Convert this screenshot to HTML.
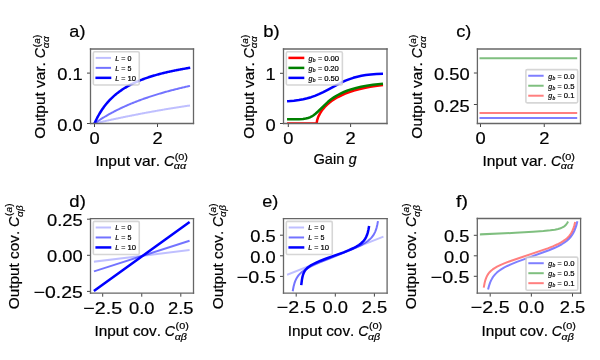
<!DOCTYPE html>
<html><head><meta charset="utf-8"><style>html,body{margin:0;padding:0;background:#fff;}svg{display:block;will-change:transform;filter:blur(0.3px);}text{font-family:"Liberation Sans",sans-serif;fill:#000;stroke:#000;stroke-width:0.2px;font-kerning:none;}</style></head><body>

<svg width="600" height="360" viewBox="0 0 600 360">
<defs>
<style type="text/css">*{stroke-linejoin: round; stroke-linecap: butt}</style>
</defs>
<g id="figure_1">
<g id="patch_1">
<path d="M 0 360 L 600 360 L 600 0 L 0 0 z" style="fill: #ffffff"/>
</g>
<g id="axes_1">
<g id="patch_2">
<path d="M 90.5 123.5 L 193.5 123.5 L 193.5 49 L 90.5 49 z" style="fill: #ffffff"/>
</g>
<g id="matplotlib.axis_1">
<g id="xtick_1">
<g id="line2d_1">
<defs>
<path id="m1504cfccaf" d="M 0 0 L 0 3.5" style="stroke: #444444; stroke-width: 1.0"/>
</defs>
<g>
<use href="#m1504cfccaf" x="94.5" y="123.5" style="stroke: #444444; stroke-width: 1.0"/>
</g>
</g>
<g id="text_1">
<text x="94.5" y="143.850" font-size="16.960" text-anchor="middle" textLength="10.180" lengthAdjust="spacingAndGlyphs">0</text>
</g>
</g>
<g id="xtick_2">
<g id="line2d_2">
<g>
<use href="#m1504cfccaf" x="157.5" y="123.5" style="stroke: #444444; stroke-width: 1.0"/>
</g>
</g>
<g id="text_2">
<text x="157.5" y="143.850" font-size="16.960" text-anchor="middle" textLength="10.180" lengthAdjust="spacingAndGlyphs">2</text>
</g>
</g>
<g id="text_3">
<g transform="translate(95.43 165.91)">
<text x="0.000" y="-0.120" font-size="14.204" textLength="68.999" lengthAdjust="spacingAndGlyphs">Input var. </text>
<text x="68.539" y="-0.120" font-size="14.204" font-style="italic">C</text>
<text x="79.270" y="-5.890" font-size="9.943" textLength="13.269" lengthAdjust="spacingAndGlyphs">(0)</text>
<text x="78.330" y="3.430" font-size="9.943" font-style="italic" textLength="12.353" lengthAdjust="spacingAndGlyphs">αα</text>
</g>
</g>
</g>
<g id="matplotlib.axis_2">
<g id="ytick_1">
<g id="line2d_3">
<defs>
<path id="m5d545ce8f8" d="M 0 0 L -3.5 0" style="stroke: #444444; stroke-width: 1.0"/>
</defs>
<g>
<use href="#m5d545ce8f8" x="90.5" y="123.5" style="stroke: #444444; stroke-width: 1.0"/>
</g>
</g>
<g id="text_4">
<text x="82.700" y="130.570" font-size="16.960" text-anchor="end" textLength="25.445" lengthAdjust="spacingAndGlyphs">0.0</text>
</g>
</g>
<g id="ytick_2">
<g id="line2d_4">
<g>
<use href="#m5d545ce8f8" x="90.5" y="73.1" style="stroke: #444444; stroke-width: 1.0"/>
</g>
</g>
<g id="text_5">
<text x="82.700" y="80.170" font-size="16.960" text-anchor="end" textLength="25.445" lengthAdjust="spacingAndGlyphs">0.1</text>
</g>
</g>
<g id="text_6">
<g transform="translate(45.560 138.64) rotate(-90)">
<text x="0.000" y="-0.120" font-size="14.204" textLength="80.829" lengthAdjust="spacingAndGlyphs">Output var. </text>
<text x="80.369" y="-0.120" font-size="14.204" font-style="italic">C</text>
<text x="91.274" y="-5.890" font-size="9.943">(</text>
<text x="100.664" y="-5.890" font-size="9.943">)</text>
<text x="90.416" y="3.430" font-size="9.943" font-style="italic">α</text>
<text x="94.859" y="-5.890" font-size="9.943" font-style="italic">a</text>
<text x="96.586" y="3.430" font-size="9.943" font-style="italic">α</text>
</g>
</g>
</g>
<g id="line2d_5">
<path d="M 94.5 123.5 L 95.29 123.31 L 96.08 123.13 L 96.88 122.95 L 97.67 122.77 L 98.47 122.59 L 99.26 122.41 L 100.05 122.23 L 100.85 122.05 L 101.64 121.87 L 102.44 121.69 L 103.23 121.51 L 104.02 121.34 L 104.82 121.16 L 105.61 120.98 L 106.41 120.81 L 107.20 120.63 L 108 120.46 L 108.79 120.29 L 109.58 120.11 L 110.38 119.94 L 111.17 119.77 L 111.97 119.60 L 112.76 119.43 L 113.55 119.26 L 114.35 119.09 L 115.14 118.92 L 115.94 118.75 L 116.73 118.58 L 117.52 118.41 L 118.32 118.24 L 119.11 118.08 L 119.91 117.91 L 120.70 117.75 L 121.5 117.58 L 122.29 117.42 L 123.08 117.25 L 123.88 117.09 L 124.67 116.93 L 125.47 116.77 L 126.26 116.60 L 127.05 116.44 L 127.85 116.28 L 128.64 116.12 L 129.44 115.96 L 130.23 115.80 L 131.02 115.65 L 131.82 115.49 L 132.61 115.33 L 133.41 115.17 L 134.20 115.02 L 135 114.86 L 135.79 114.71 L 136.58 114.55 L 137.38 114.40 L 138.17 114.25 L 138.97 114.09 L 139.76 113.94 L 140.55 113.79 L 141.35 113.64 L 142.14 113.49 L 142.94 113.34 L 143.73 113.19 L 144.52 113.04 L 145.32 112.89 L 146.11 112.74 L 146.91 112.60 L 147.70 112.45 L 148.5 112.30 L 149.29 112.16 L 150.08 112.01 L 150.88 111.87 L 151.67 111.72 L 152.47 111.58 L 153.26 111.44 L 154.05 111.29 L 154.85 111.15 L 155.64 111.01 L 156.44 110.87 L 157.23 110.73 L 158.02 110.59 L 158.82 110.45 L 159.61 110.31 L 160.41 110.17 L 161.20 110.04 L 162 109.90 L 162.79 109.76 L 163.58 109.63 L 164.38 109.49 L 165.17 109.36 L 165.97 109.22 L 166.76 109.09 L 167.55 108.96 L 168.35 108.82 L 169.14 108.69 L 169.94 108.56 L 170.73 108.43 L 171.52 108.30 L 172.32 108.17 L 173.11 108.04 L 173.91 107.91 L 174.70 107.78 L 175.5 107.65 L 176.29 107.53 L 177.08 107.40 L 177.88 107.27 L 178.67 107.15 L 179.47 107.02 L 180.26 106.90 L 181.05 106.77 L 181.85 106.65 L 182.64 106.53 L 183.44 106.41 L 184.23 106.28 L 185.02 106.16 L 185.82 106.04 L 186.61 105.92 L 187.41 105.80 L 188.20 105.68 L 189 105.56" clip-path="url(#p5fc4c7f21c)" style="fill: none; stroke: #0000ff; stroke-opacity: 0.25; stroke-width: 2; stroke-linecap: square"/>
</g>
<g id="line2d_6">
<path d="M 94.5 123.5 L 95.29 122.93 L 96.08 122.38 L 96.88 121.83 L 97.67 121.29 L 98.47 120.76 L 99.26 120.24 L 100.05 119.72 L 100.85 119.21 L 101.64 118.70 L 102.44 118.21 L 103.23 117.71 L 104.02 117.23 L 104.82 116.75 L 105.61 116.27 L 106.41 115.81 L 107.20 115.34 L 108 114.89 L 108.79 114.44 L 109.58 113.99 L 110.38 113.55 L 111.17 113.11 L 111.97 112.68 L 112.76 112.26 L 113.55 111.84 L 114.35 111.42 L 115.14 111.01 L 115.94 110.61 L 116.73 110.20 L 117.52 109.81 L 118.32 109.42 L 119.11 109.03 L 119.91 108.64 L 120.70 108.26 L 121.5 107.89 L 122.29 107.52 L 123.08 107.15 L 123.88 106.79 L 124.67 106.43 L 125.47 106.07 L 126.26 105.72 L 127.05 105.37 L 127.85 105.03 L 128.64 104.69 L 129.44 104.35 L 130.23 104.01 L 131.02 103.68 L 131.82 103.36 L 132.61 103.03 L 133.41 102.71 L 134.20 102.39 L 135 102.08 L 135.79 101.77 L 136.58 101.46 L 137.38 101.15 L 138.17 100.85 L 138.97 100.55 L 139.76 100.25 L 140.55 99.96 L 141.35 99.67 L 142.14 99.38 L 142.94 99.09 L 143.73 98.81 L 144.52 98.53 L 145.32 98.25 L 146.11 97.98 L 146.91 97.71 L 147.70 97.44 L 148.5 97.17 L 149.29 96.90 L 150.08 96.64 L 150.88 96.38 L 151.67 96.12 L 152.47 95.86 L 153.26 95.61 L 154.05 95.36 L 154.85 95.11 L 155.64 94.86 L 156.44 94.62 L 157.23 94.37 L 158.02 94.13 L 158.82 93.89 L 159.61 93.66 L 160.41 93.42 L 161.20 93.19 L 162 92.96 L 162.79 92.73 L 163.58 92.50 L 164.38 92.28 L 165.17 92.05 L 165.97 91.83 L 166.76 91.61 L 167.55 91.39 L 168.35 91.18 L 169.14 90.96 L 169.94 90.75 L 170.73 90.54 L 171.52 90.33 L 172.32 90.12 L 173.11 89.92 L 173.91 89.71 L 174.70 89.51 L 175.5 89.31 L 176.29 89.11 L 177.08 88.91 L 177.88 88.71 L 178.67 88.52 L 179.47 88.32 L 180.26 88.13 L 181.05 87.94 L 181.85 87.75 L 182.64 87.56 L 183.44 87.37 L 184.23 87.19 L 185.02 87.00 L 185.82 86.82 L 186.61 86.64 L 187.41 86.46 L 188.20 86.28 L 189 86.10" clip-path="url(#p5fc4c7f21c)" style="fill: none; stroke: #0000ff; stroke-opacity: 0.55; stroke-width: 2; stroke-linecap: square"/>
</g>
<g id="line2d_7">
<path d="M 94.5 123.5 L 95.29 121.74 L 96.08 120.07 L 96.88 118.47 L 97.67 116.95 L 98.47 115.49 L 99.26 114.09 L 100.05 112.76 L 100.85 111.48 L 101.64 110.25 L 102.44 109.07 L 103.23 107.93 L 104.02 106.84 L 104.82 105.78 L 105.61 104.77 L 106.41 103.79 L 107.20 102.84 L 108 101.93 L 108.79 101.05 L 109.58 100.20 L 110.38 99.37 L 111.17 98.57 L 111.97 97.80 L 112.76 97.05 L 113.55 96.32 L 114.35 95.62 L 115.14 94.93 L 115.94 94.27 L 116.73 93.62 L 117.52 93.00 L 118.32 92.39 L 119.11 91.79 L 119.91 91.21 L 120.70 90.65 L 121.5 90.10 L 122.29 89.57 L 123.08 89.05 L 123.88 88.54 L 124.67 88.05 L 125.47 87.56 L 126.26 87.09 L 127.05 86.63 L 127.85 86.18 L 128.64 85.74 L 129.44 85.31 L 130.23 84.89 L 131.02 84.48 L 131.82 84.08 L 132.61 83.69 L 133.41 83.31 L 134.20 82.93 L 135 82.56 L 135.79 82.20 L 136.58 81.85 L 137.38 81.50 L 138.17 81.16 L 138.97 80.83 L 139.76 80.50 L 140.55 80.18 L 141.35 79.87 L 142.14 79.56 L 142.94 79.26 L 143.73 78.97 L 144.52 78.68 L 145.32 78.39 L 146.11 78.11 L 146.91 77.83 L 147.70 77.56 L 148.5 77.30 L 149.29 77.04 L 150.08 76.78 L 150.88 76.53 L 151.67 76.28 L 152.47 76.04 L 153.26 75.80 L 154.05 75.56 L 154.85 75.33 L 155.64 75.10 L 156.44 74.87 L 157.23 74.65 L 158.02 74.44 L 158.82 74.22 L 159.61 74.01 L 160.41 73.80 L 161.20 73.60 L 162 73.40 L 162.79 73.20 L 163.58 73.00 L 164.38 72.81 L 165.17 72.62 L 165.97 72.43 L 166.76 72.25 L 167.55 72.06 L 168.35 71.88 L 169.14 71.71 L 169.94 71.53 L 170.73 71.36 L 171.52 71.19 L 172.32 71.02 L 173.11 70.86 L 173.91 70.69 L 174.70 70.53 L 175.5 70.37 L 176.29 70.22 L 177.08 70.06 L 177.88 69.91 L 178.67 69.76 L 179.47 69.61 L 180.26 69.46 L 181.05 69.31 L 181.85 69.17 L 182.64 69.03 L 183.44 68.89 L 184.23 68.75 L 185.02 68.61 L 185.82 68.48 L 186.61 68.34 L 187.41 68.21 L 188.20 68.08 L 189 67.95" clip-path="url(#p5fc4c7f21c)" style="fill: none; stroke: #0000ff; stroke-width: 2.5; stroke-linecap: square"/>
</g>
<g id="patch_3">
<path d="M 90.5 123.5 L 90.5 49" style="fill: none; stroke: #666666; stroke-width: 1.3; stroke-linejoin: miter; stroke-linecap: square"/>
</g>
<g id="patch_4">
<path d="M 193.5 123.5 L 193.5 49" style="fill: none; stroke: #666666; stroke-width: 1.3; stroke-linejoin: miter; stroke-linecap: square"/>
</g>
<g id="patch_5">
<path d="M 90.5 123.5 L 193.5 123.5" style="fill: none; stroke: #666666; stroke-width: 1.3; stroke-linejoin: miter; stroke-linecap: square"/>
</g>
<g id="patch_6">
<path d="M 90.5 49 L 193.5 49" style="fill: none; stroke: #666666; stroke-width: 1.3; stroke-linejoin: miter; stroke-linecap: square"/>
</g>
<g id="text_7">
<text x="69.38" y="37.45" font-size="16.960" text-anchor="start" textLength="16.047" lengthAdjust="spacingAndGlyphs">a)</text>
</g>
<g id="legend_1">
<g id="patch_7">
<path d="M 94.65 84.93 L 137.93 84.93 Q 139.27 84.93 139.27 83.59 L 139.27 53.15 Q 139.27 51.81 137.93 51.81 L 94.65 51.81 Q 93.31 51.81 93.31 53.15 L 93.31 83.59 Q 93.31 84.93 94.65 84.93 z" style="fill: #ffffff; opacity: 0.8; stroke: #cccccc; stroke-width: 1.6; stroke-linejoin: miter"/>
</g>
<g id="line2d_8">
<path d="M 96.66 57.90 L 103.36 57.90 L 110.06 57.90" style="fill: none; stroke: #0000ff; stroke-opacity: 0.25; stroke-width: 2; stroke-linecap: square"/>
</g>
<g id="text_8">
<g transform="translate(115.42 60.25)">
<text x="-0.109" y="0.410" font-size="7.102" font-style="italic">L</text>
<text x="5.803" y="0.410" font-size="7.102">=</text>
<text x="12.196" y="0.410" font-size="7.102">0</text>
</g>
</g>
<g id="line2d_9">
<path d="M 96.66 67.87 L 103.36 67.87 L 110.06 67.87" style="fill: none; stroke: #0000ff; stroke-opacity: 0.55; stroke-width: 2; stroke-linecap: square"/>
</g>
<g id="text_9">
<g transform="translate(115.42 70.22)">
<text x="-0.109" y="0.310" font-size="7.102" font-style="italic">L</text>
<text x="5.803" y="0.310" font-size="7.102">=</text>
<text x="12.196" y="0.310" font-size="7.102">5</text>
</g>
</g>
<g id="line2d_10">
<path d="M 96.66 77.84 L 103.36 77.84 L 110.06 77.84" style="fill: none; stroke: #0000ff; stroke-width: 2.5; stroke-linecap: square"/>
</g>
<g id="text_10">
<g transform="translate(115.42 80.19)">
<text x="-0.109" y="0.410" font-size="7.102" font-style="italic">L</text>
<text x="5.803" y="0.410" font-size="7.102">=</text>
<text x="12.040" y="0.410" font-size="7.102" textLength="8.563" lengthAdjust="spacingAndGlyphs">10</text>
</g>
</g>
</g>
</g>
<g id="axes_2">
<g id="patch_8">
<path d="M 283.5 123.5 L 387 123.5 L 387 49 L 283.5 49 z" style="fill: #ffffff"/>
</g>
<g id="matplotlib.axis_3">
<g id="xtick_3">
<g id="line2d_11">
<g>
<use href="#m1504cfccaf" x="288.3" y="123.5" style="stroke: #444444; stroke-width: 1.0"/>
</g>
</g>
<g id="text_11">
<text x="288.3" y="143.850" font-size="16.960" text-anchor="middle" textLength="10.180" lengthAdjust="spacingAndGlyphs">0</text>
</g>
</g>
<g id="xtick_4">
<g id="line2d_12">
<g>
<use href="#m1504cfccaf" x="350.6" y="123.5" style="stroke: #444444; stroke-width: 1.0"/>
</g>
</g>
<g id="text_12">
<text x="350.6" y="143.850" font-size="16.960" text-anchor="middle" textLength="10.180" lengthAdjust="spacingAndGlyphs">2</text>
</g>
</g>
<g id="text_13">
<g transform="translate(313.40 163.76)">
<text x="0.000" y="-0.120" font-size="14.204" textLength="35.009" lengthAdjust="spacingAndGlyphs">Gain </text>
<text x="35.303" y="-0.120" font-size="14.204" font-style="italic">g</text>
</g>
</g>
</g>
<g id="matplotlib.axis_4">
<g id="ytick_3">
<g id="line2d_13">
<g>
<use href="#m5d545ce8f8" x="283.5" y="123.5" style="stroke: #444444; stroke-width: 1.0"/>
</g>
</g>
<g id="text_14">
<text x="275.700" y="130.570" font-size="16.960" text-anchor="end" textLength="10.180" lengthAdjust="spacingAndGlyphs">0</text>
</g>
</g>
<g id="ytick_4">
<g id="line2d_14">
<g>
<use href="#m5d545ce8f8" x="283.5" y="73.3" style="stroke: #444444; stroke-width: 1.0"/>
</g>
</g>
<g id="text_15">
<text x="275.700" y="80.370" font-size="16.960" text-anchor="end" textLength="10.180" lengthAdjust="spacingAndGlyphs">1</text>
</g>
</g>
<g id="text_16">
<g transform="translate(253.830 138.64) rotate(-90)">
<text x="0.000" y="-0.120" font-size="14.204" textLength="80.829" lengthAdjust="spacingAndGlyphs">Output var. </text>
<text x="80.369" y="-0.120" font-size="14.204" font-style="italic">C</text>
<text x="91.274" y="-5.890" font-size="9.943">(</text>
<text x="100.664" y="-5.890" font-size="9.943">)</text>
<text x="90.416" y="3.430" font-size="9.943" font-style="italic">α</text>
<text x="94.859" y="-5.890" font-size="9.943" font-style="italic">a</text>
<text x="96.586" y="3.430" font-size="9.943" font-style="italic">α</text>
</g>
</g>
</g>
<g id="line2d_15">
<path d="M 288.3 123.5 L 316.40 123.5 L 316.63 123.34 L 317.10 120.51 L 317.81 118.14 L 318.74 115.84 L 319.91 113.56 L 321.32 111.30 L 322.96 109.08 L 324.83 106.90 L 326.94 104.79 L 329.28 102.75 L 331.86 100.79 L 334.67 98.92 L 337.95 97.02 L 341.46 95.26 L 345.21 93.63 L 349.42 92.05 L 353.87 90.62 L 358.79 89.27 L 364.18 88.02 L 370.27 86.84 L 377.06 85.77 L 381.75 85.15 L 381.75 85.15" clip-path="url(#p96dea099c9)" style="fill: none; stroke: #ff0000; stroke-width: 2.5; stroke-linecap: square"/>
</g>
<g id="line2d_16">
<path d="M 288.3 119.30 L 298.92 119.17 L 302.98 118.92 L 305.80 118.53 L 307.99 118.02 L 309.86 117.36 L 311.74 116.45 L 313.61 115.25 L 315.49 113.78 L 317.99 111.49 L 327.99 101.83 L 331.11 99.33 L 334.24 97.14 L 337.36 95.23 L 340.49 93.57 L 343.93 91.99 L 347.68 90.52 L 351.74 89.18 L 356.12 87.97 L 361.12 86.83 L 366.74 85.78 L 372.99 84.85 L 380.49 83.96 L 381.75 83.83 L 381.75 83.83" clip-path="url(#p96dea099c9)" style="fill: none; stroke: #008000; stroke-width: 2.5; stroke-linecap: square"/>
</g>
<g id="line2d_17">
<path d="M 288.3 101.17 L 293.92 100.68 L 298.92 100.03 L 303.30 99.24 L 307.36 98.28 L 311.11 97.19 L 314.86 95.88 L 318.92 94.20 L 323.30 92.13 L 328.61 89.35 L 341.11 82.69 L 345.49 80.68 L 349.55 79.07 L 353.30 77.81 L 357.37 76.70 L 361.43 75.81 L 365.81 75.09 L 370.81 74.49 L 376.43 74.05 L 381.75 73.81 L 381.75 73.81" clip-path="url(#p96dea099c9)" style="fill: none; stroke: #0000ff; stroke-width: 2.5; stroke-linecap: square"/>
</g>
<g id="patch_9">
<path d="M 283.5 123.5 L 283.5 49" style="fill: none; stroke: #666666; stroke-width: 1.3; stroke-linejoin: miter; stroke-linecap: square"/>
</g>
<g id="patch_10">
<path d="M 387 123.5 L 387 49" style="fill: none; stroke: #666666; stroke-width: 1.3; stroke-linejoin: miter; stroke-linecap: square"/>
</g>
<g id="patch_11">
<path d="M 283.5 123.5 L 387 123.5" style="fill: none; stroke: #666666; stroke-width: 1.3; stroke-linejoin: miter; stroke-linecap: square"/>
</g>
<g id="patch_12">
<path d="M 283.5 49 L 387 49" style="fill: none; stroke: #666666; stroke-width: 1.3; stroke-linejoin: miter; stroke-linecap: square"/>
</g>
<g id="text_17">
<text x="263.280" y="37.45" font-size="16.960" text-anchor="start" textLength="16.398" lengthAdjust="spacingAndGlyphs">b)</text>
</g>
<g id="legend_2">
<g id="patch_13">
<path d="M 287.65 84.97 L 341.05 84.97 Q 342.39 84.97 342.39 83.63 L 342.39 53.15 Q 342.39 51.81 341.05 51.81 L 287.65 51.81 Q 286.31 51.81 286.31 53.15 L 286.31 83.63 Q 286.31 84.97 287.65 84.97 z" style="fill: #ffffff; opacity: 0.8; stroke: #cccccc; stroke-width: 1.6; stroke-linejoin: miter"/>
</g>
<g id="line2d_18">
<path d="M 289.66 57.90 L 296.36 57.90 L 303.06 57.90" style="fill: none; stroke: #ff0000; stroke-width: 2.5; stroke-linecap: square"/>
</g>
<g id="text_18">
<g transform="translate(308.42 60.25)">
<text x="0.152" y="0.410" font-size="7.102" font-style="italic">g</text>
<text x="4.386" y="1.550" font-size="4.971" font-style="italic">b</text>
<text x="9.523" y="0.410" font-size="7.102">=</text>
<text x="15.760" y="0.410" font-size="7.102" textLength="14.993" lengthAdjust="spacingAndGlyphs">0.00</text>
</g>
</g>
<g id="line2d_19">
<path d="M 289.66 67.89 L 296.36 67.89 L 303.06 67.89" style="fill: none; stroke: #008000; stroke-width: 2.5; stroke-linecap: square"/>
</g>
<g id="text_19">
<g transform="translate(308.42 70.23)">
<text x="0.152" y="0.410" font-size="7.102" font-style="italic">g</text>
<text x="4.386" y="1.550" font-size="4.971" font-style="italic">b</text>
<text x="9.523" y="0.410" font-size="7.102">=</text>
<text x="15.760" y="0.410" font-size="7.102" textLength="6.420" lengthAdjust="spacingAndGlyphs">0.</text>
<text x="21.820" y="0.410" font-size="7.102" textLength="8.563" lengthAdjust="spacingAndGlyphs">20</text>
</g>
</g>
<g id="line2d_20">
<path d="M 289.66 77.87 L 296.36 77.87 L 303.06 77.87" style="fill: none; stroke: #0000ff; stroke-width: 2.5; stroke-linecap: square"/>
</g>
<g id="text_20">
<g transform="translate(308.42 80.21)">
<text x="0.152" y="0.410" font-size="7.102" font-style="italic">g</text>
<text x="4.386" y="1.550" font-size="4.971" font-style="italic">b</text>
<text x="9.523" y="0.410" font-size="7.102">=</text>
<text x="15.760" y="0.410" font-size="7.102" textLength="14.993" lengthAdjust="spacingAndGlyphs">0.50</text>
</g>
</g>
</g>
</g>
<g id="axes_3">
<g id="patch_14">
<path d="M 477.4 123.5 L 580.5 123.5 L 580.5 49 L 477.4 49 z" style="fill: #ffffff"/>
</g>
<g id="matplotlib.axis_5">
<g id="xtick_5">
<g id="line2d_21">
<g>
<use href="#m1504cfccaf" x="480.5" y="123.5" style="stroke: #444444; stroke-width: 1.0"/>
</g>
</g>
<g id="text_21">
<text x="480.5" y="143.850" font-size="16.960" text-anchor="middle" textLength="10.180" lengthAdjust="spacingAndGlyphs">0</text>
</g>
</g>
<g id="xtick_6">
<g id="line2d_22">
<g>
<use href="#m1504cfccaf" x="544.25" y="123.5" style="stroke: #444444; stroke-width: 1.0"/>
</g>
</g>
<g id="text_22">
<text x="544.25" y="143.850" font-size="16.960" text-anchor="middle" textLength="10.180" lengthAdjust="spacingAndGlyphs">2</text>
</g>
</g>
<g id="text_23">
<g transform="translate(482.38 165.91)">
<text x="0.000" y="-0.120" font-size="14.204" textLength="68.999" lengthAdjust="spacingAndGlyphs">Input var. </text>
<text x="68.539" y="-0.120" font-size="14.204" font-style="italic">C</text>
<text x="79.270" y="-5.890" font-size="9.943" textLength="13.269" lengthAdjust="spacingAndGlyphs">(0)</text>
<text x="78.330" y="3.430" font-size="9.943" font-style="italic" textLength="12.353" lengthAdjust="spacingAndGlyphs">αα</text>
</g>
</g>
</g>
<g id="matplotlib.axis_6">
<g id="ytick_5">
<g id="line2d_23">
<g>
<use href="#m5d545ce8f8" x="477.4" y="104.5" style="stroke: #444444; stroke-width: 1.0"/>
</g>
</g>
<g id="text_24">
<text x="469.600" y="111.570" font-size="16.960" text-anchor="end" textLength="35.625" lengthAdjust="spacingAndGlyphs">0.25</text>
</g>
</g>
<g id="ytick_6">
<g id="line2d_24">
<g>
<use href="#m5d545ce8f8" x="477.4" y="73" style="stroke: #444444; stroke-width: 1.0"/>
</g>
</g>
<g id="text_25">
<text x="469.600" y="80.070" font-size="16.960" text-anchor="end" textLength="35.625" lengthAdjust="spacingAndGlyphs">0.50</text>
</g>
</g>
<g id="text_26">
<g transform="translate(422.280 138.64) rotate(-90)">
<text x="0.000" y="-0.120" font-size="14.204" textLength="80.829" lengthAdjust="spacingAndGlyphs">Output var. </text>
<text x="80.369" y="-0.120" font-size="14.204" font-style="italic">C</text>
<text x="91.274" y="-5.890" font-size="9.943">(</text>
<text x="100.664" y="-5.890" font-size="9.943">)</text>
<text x="90.416" y="3.430" font-size="9.943" font-style="italic">α</text>
<text x="94.859" y="-5.890" font-size="9.943" font-style="italic">a</text>
<text x="96.586" y="3.430" font-size="9.943" font-style="italic">α</text>
</g>
</g>
</g>
<g id="line2d_25">
<path d="M 480.5 117.9 L 576.2 117.9" clip-path="url(#pc8fb054b8a)" style="fill: none; stroke: #0000ff; stroke-opacity: 0.5; stroke-width: 2; stroke-linecap: square"/>
</g>
<g id="line2d_26">
<path d="M 480.5 58.2 L 576.2 58.2" clip-path="url(#pc8fb054b8a)" style="fill: none; stroke: #008000; stroke-opacity: 0.5; stroke-width: 2; stroke-linecap: square"/>
</g>
<g id="line2d_27">
<path d="M 480.5 113.1 L 576.2 113.1" clip-path="url(#pc8fb054b8a)" style="fill: none; stroke: #ff0000; stroke-opacity: 0.5; stroke-width: 2; stroke-linecap: square"/>
</g>
<g id="patch_15">
<path d="M 477.4 123.5 L 477.4 49" style="fill: none; stroke: #666666; stroke-width: 1.3; stroke-linejoin: miter; stroke-linecap: square"/>
</g>
<g id="patch_16">
<path d="M 580.5 123.5 L 580.5 49" style="fill: none; stroke: #666666; stroke-width: 1.3; stroke-linejoin: miter; stroke-linecap: square"/>
</g>
<g id="patch_17">
<path d="M 477.4 123.5 L 580.5 123.5" style="fill: none; stroke: #666666; stroke-width: 1.3; stroke-linejoin: miter; stroke-linecap: square"/>
</g>
<g id="patch_18">
<path d="M 477.4 49 L 580.5 49" style="fill: none; stroke: #666666; stroke-width: 1.3; stroke-linejoin: miter; stroke-linecap: square"/>
</g>
<g id="text_27">
<text x="456.26" y="37.45" font-size="16.960" text-anchor="start" textLength="15.039" lengthAdjust="spacingAndGlyphs">c)</text>
</g>
<g id="legend_3">
<g id="patch_19">
<path d="M 527.23 102.83 L 576.34 102.83 Q 577.68 102.83 577.68 101.49 L 577.68 71.00 Q 577.68 69.66 576.34 69.66 L 527.23 69.66 Q 525.89 69.66 525.89 71.00 L 525.89 101.49 Q 525.89 102.83 527.23 102.83 z" style="fill: #ffffff; opacity: 0.8; stroke: #cccccc; stroke-width: 1.6; stroke-linejoin: miter"/>
</g>
<g id="line2d_28">
<path d="M 529.24 75.76 L 535.94 75.76 L 542.64 75.76" style="fill: none; stroke: #0000ff; stroke-opacity: 0.5; stroke-width: 2; stroke-linecap: square"/>
</g>
<g id="text_28">
<g transform="translate(548.00 78.11)">
<text x="0.152" y="0.410" font-size="7.102" font-style="italic">g</text>
<text x="4.386" y="1.550" font-size="4.971" font-style="italic">b</text>
<text x="9.523" y="0.410" font-size="7.102">=</text>
<text x="15.760" y="0.410" font-size="7.102" textLength="10.703" lengthAdjust="spacingAndGlyphs">0.0</text>
</g>
</g>
<g id="line2d_29">
<path d="M 529.24 85.74 L 535.94 85.74 L 542.64 85.74" style="fill: none; stroke: #008000; stroke-opacity: 0.5; stroke-width: 2; stroke-linecap: square"/>
</g>
<g id="text_29">
<g transform="translate(548.00 88.09)">
<text x="0.152" y="0.410" font-size="7.102" font-style="italic">g</text>
<text x="4.386" y="1.550" font-size="4.971" font-style="italic">b</text>
<text x="9.523" y="0.410" font-size="7.102">=</text>
<text x="15.760" y="0.410" font-size="7.102" textLength="10.703" lengthAdjust="spacingAndGlyphs">0.5</text>
</g>
</g>
<g id="line2d_30">
<path d="M 529.24 95.72 L 535.94 95.72 L 542.64 95.72" style="fill: none; stroke: #ff0000; stroke-opacity: 0.5; stroke-width: 2; stroke-linecap: square"/>
</g>
<g id="text_30">
<g transform="translate(548.00 98.07)">
<text x="0.152" y="0.410" font-size="7.102" font-style="italic">g</text>
<text x="4.386" y="1.550" font-size="4.971" font-style="italic">b</text>
<text x="9.523" y="0.410" font-size="7.102">=</text>
<text x="15.760" y="0.410" font-size="7.102" textLength="10.703" lengthAdjust="spacingAndGlyphs">0.1</text>
</g>
</g>
</g>
</g>
<g id="axes_4">
<g id="patch_20">
<path d="M 90.5 293.2 L 193.5 293.2 L 193.5 218.6 L 90.5 218.6 z" style="fill: #ffffff"/>
</g>
<g id="matplotlib.axis_7">
<g id="xtick_7">
<g id="line2d_31">
<g>
<use href="#m1504cfccaf" x="102.7" y="293.2" style="stroke: #444444; stroke-width: 1.0"/>
</g>
</g>
<g id="text_31">
<text x="102.7" y="313.550" font-size="16.960" text-anchor="middle" textLength="38.852" lengthAdjust="spacingAndGlyphs">−2.5</text>
</g>
</g>
<g id="xtick_8">
<g id="line2d_32">
<g>
<use href="#m1504cfccaf" x="141.75" y="293.2" style="stroke: #444444; stroke-width: 1.0"/>
</g>
</g>
<g id="text_32">
<text x="141.75" y="313.550" font-size="16.960" text-anchor="middle" textLength="25.445" lengthAdjust="spacingAndGlyphs">0.0</text>
</g>
</g>
<g id="xtick_9">
<g id="line2d_33">
<g>
<use href="#m1504cfccaf" x="180.8" y="293.2" style="stroke: #444444; stroke-width: 1.0"/>
</g>
</g>
<g id="text_33">
<text x="180.8" y="313.550" font-size="16.960" text-anchor="middle" textLength="25.445" lengthAdjust="spacingAndGlyphs">2.5</text>
</g>
</g>
<g id="text_34">
<g transform="translate(94.49 336.95)">
<text x="0.000" y="-0.800" font-size="14.204" textLength="70.839" lengthAdjust="spacingAndGlyphs">Input cov. </text>
<text x="70.379" y="-0.800" font-size="14.204" font-style="italic">C</text>
<text x="81.110" y="-7.890" font-size="9.943" textLength="13.269" lengthAdjust="spacingAndGlyphs">(0)</text>
<text x="80.170" y="2.740" font-size="9.943" font-style="italic" textLength="12.156" lengthAdjust="spacingAndGlyphs">αβ</text>
</g>
</g>
</g>
<g id="matplotlib.axis_8">
<g id="ytick_7">
<g id="line2d_34">
<g>
<use href="#m5d545ce8f8" x="90.5" y="291.4" style="stroke: #444444; stroke-width: 1.0"/>
</g>
</g>
<g id="text_35">
<text x="82.700" y="298.470" font-size="16.960" text-anchor="end" textLength="49.031" lengthAdjust="spacingAndGlyphs">−0.25</text>
</g>
</g>
<g id="ytick_8">
<g id="line2d_35">
<g>
<use href="#m5d545ce8f8" x="90.5" y="255.3" style="stroke: #444444; stroke-width: 1.0"/>
</g>
</g>
<g id="text_36">
<text x="82.700" y="262.370" font-size="16.960" text-anchor="end" textLength="35.625" lengthAdjust="spacingAndGlyphs">0.00</text>
</g>
</g>
<g id="ytick_9">
<g id="line2d_36">
<g>
<use href="#m5d545ce8f8" x="90.5" y="219.2" style="stroke: #444444; stroke-width: 1.0"/>
</g>
</g>
<g id="text_37">
<text x="82.700" y="226.270" font-size="16.960" text-anchor="end" textLength="35.625" lengthAdjust="spacingAndGlyphs">0.25</text>
</g>
</g>
<g id="text_38">
<g transform="translate(20.230 309.23) rotate(-90)">
<text x="0.000" y="-0.800" font-size="14.204" textLength="82.669" lengthAdjust="spacingAndGlyphs">Output cov. </text>
<text x="82.209" y="-0.800" font-size="14.204" font-style="italic">C</text>
<text x="93.114" y="-7.890" font-size="9.943">(</text>
<text x="102.504" y="-7.890" font-size="9.943">)</text>
<text x="92.256" y="2.740" font-size="9.943" font-style="italic">α</text>
<text x="96.699" y="-7.890" font-size="9.943" font-style="italic">a</text>
<text x="98.323" y="2.740" font-size="9.943" font-style="italic">β</text>
</g>
</g>
</g>
<g id="line2d_37">
<path d="M 94.9 261.6 L 188.6 250.2" clip-path="url(#p35a63f50ab)" style="fill: none; stroke: #0000ff; stroke-opacity: 0.25; stroke-width: 2; stroke-linecap: square"/>
</g>
<g id="line2d_38">
<path d="M 94.9 271.1 L 188.6 241.1" clip-path="url(#p35a63f50ab)" style="fill: none; stroke: #0000ff; stroke-opacity: 0.55; stroke-width: 2; stroke-linecap: square"/>
</g>
<g id="line2d_39">
<path d="M 94.9 290.2 L 188.6 222.8" clip-path="url(#p35a63f50ab)" style="fill: none; stroke: #0000ff; stroke-width: 2.5; stroke-linecap: square"/>
</g>
<g id="patch_21">
<path d="M 90.5 293.2 L 90.5 218.6" style="fill: none; stroke: #666666; stroke-width: 1.3; stroke-linejoin: miter; stroke-linecap: square"/>
</g>
<g id="patch_22">
<path d="M 193.5 293.2 L 193.5 218.6" style="fill: none; stroke: #666666; stroke-width: 1.3; stroke-linejoin: miter; stroke-linecap: square"/>
</g>
<g id="patch_23">
<path d="M 90.5 293.2 L 193.5 293.2" style="fill: none; stroke: #666666; stroke-width: 1.3; stroke-linejoin: miter; stroke-linecap: square"/>
</g>
<g id="patch_24">
<path d="M 90.5 218.6 L 193.5 218.6" style="fill: none; stroke: #666666; stroke-width: 1.3; stroke-linejoin: miter; stroke-linecap: square"/>
</g>
<g id="text_39">
<text x="69.38" y="207.03" font-size="16.960" text-anchor="start" textLength="16.398" lengthAdjust="spacingAndGlyphs">d)</text>
</g>
<g id="legend_4">
<g id="patch_25">
<path d="M 94.65 254.53 L 137.93 254.53 Q 139.27 254.53 139.27 253.19 L 139.27 222.75 Q 139.27 221.41 137.93 221.41 L 94.65 221.41 Q 93.31 221.41 93.31 222.75 L 93.31 253.19 Q 93.31 254.53 94.65 254.53 z" style="fill: #ffffff; opacity: 0.8; stroke: #cccccc; stroke-width: 1.6; stroke-linejoin: miter"/>
</g>
<g id="line2d_40">
<path d="M 96.66 227.50 L 103.36 227.50 L 110.06 227.50" style="fill: none; stroke: #0000ff; stroke-opacity: 0.25; stroke-width: 2; stroke-linecap: square"/>
</g>
<g id="text_40">
<g transform="translate(115.42 229.85)">
<text x="-0.109" y="0.410" font-size="7.102" font-style="italic">L</text>
<text x="5.803" y="0.410" font-size="7.102">=</text>
<text x="12.196" y="0.410" font-size="7.102">0</text>
</g>
</g>
<g id="line2d_41">
<path d="M 96.66 237.47 L 103.36 237.47 L 110.06 237.47" style="fill: none; stroke: #0000ff; stroke-opacity: 0.55; stroke-width: 2; stroke-linecap: square"/>
</g>
<g id="text_41">
<g transform="translate(115.42 239.82)">
<text x="-0.109" y="0.310" font-size="7.102" font-style="italic">L</text>
<text x="5.803" y="0.310" font-size="7.102">=</text>
<text x="12.196" y="0.310" font-size="7.102">5</text>
</g>
</g>
<g id="line2d_42">
<path d="M 96.66 247.44 L 103.36 247.44 L 110.06 247.44" style="fill: none; stroke: #0000ff; stroke-width: 2.5; stroke-linecap: square"/>
</g>
<g id="text_42">
<g transform="translate(115.42 249.79)">
<text x="-0.109" y="0.410" font-size="7.102" font-style="italic">L</text>
<text x="5.803" y="0.410" font-size="7.102">=</text>
<text x="12.040" y="0.410" font-size="7.102" textLength="8.563" lengthAdjust="spacingAndGlyphs">10</text>
</g>
</g>
</g>
</g>
<g id="axes_5">
<g id="patch_26">
<path d="M 283.5 293.1 L 387.1 293.1 L 387.1 218.6 L 283.5 218.6 z" style="fill: #ffffff"/>
</g>
<g id="matplotlib.axis_9">
<g id="xtick_10">
<g id="line2d_43">
<g>
<use href="#m1504cfccaf" x="296.2" y="293.1" style="stroke: #444444; stroke-width: 1.0"/>
</g>
</g>
<g id="text_43">
<text x="296.2" y="313.450" font-size="16.960" text-anchor="middle" textLength="38.852" lengthAdjust="spacingAndGlyphs">−2.5</text>
</g>
</g>
<g id="xtick_11">
<g id="line2d_44">
<g>
<use href="#m1504cfccaf" x="335.3" y="293.1" style="stroke: #444444; stroke-width: 1.0"/>
</g>
</g>
<g id="text_44">
<text x="335.3" y="313.450" font-size="16.960" text-anchor="middle" textLength="25.445" lengthAdjust="spacingAndGlyphs">0.0</text>
</g>
</g>
<g id="xtick_12">
<g id="line2d_45">
<g>
<use href="#m1504cfccaf" x="374.4" y="293.1" style="stroke: #444444; stroke-width: 1.0"/>
</g>
</g>
<g id="text_45">
<text x="374.4" y="313.450" font-size="16.960" text-anchor="middle" textLength="25.445" lengthAdjust="spacingAndGlyphs">2.5</text>
</g>
</g>
<g id="text_46">
<g transform="translate(287.79 336.85)">
<text x="0.000" y="-0.800" font-size="14.204" textLength="70.839" lengthAdjust="spacingAndGlyphs">Input cov. </text>
<text x="70.379" y="-0.800" font-size="14.204" font-style="italic">C</text>
<text x="81.110" y="-7.890" font-size="9.943" textLength="13.269" lengthAdjust="spacingAndGlyphs">(0)</text>
<text x="80.170" y="2.740" font-size="9.943" font-style="italic" textLength="12.156" lengthAdjust="spacingAndGlyphs">αβ</text>
</g>
</g>
</g>
<g id="matplotlib.axis_10">
<g id="ytick_10">
<g id="line2d_46">
<g>
<use href="#m5d545ce8f8" x="283.5" y="276.4" style="stroke: #444444; stroke-width: 1.0"/>
</g>
</g>
<g id="text_47">
<text x="275.700" y="283.470" font-size="16.960" text-anchor="end" textLength="38.852" lengthAdjust="spacingAndGlyphs">−0.5</text>
</g>
</g>
<g id="ytick_11">
<g id="line2d_47">
<g>
<use href="#m5d545ce8f8" x="283.5" y="255.8" style="stroke: #444444; stroke-width: 1.0"/>
</g>
</g>
<g id="text_48">
<text x="275.700" y="262.870" font-size="16.960" text-anchor="end" textLength="25.445" lengthAdjust="spacingAndGlyphs">0.0</text>
</g>
</g>
<g id="ytick_12">
<g id="line2d_48">
<g>
<use href="#m5d545ce8f8" x="283.5" y="235.2" style="stroke: #444444; stroke-width: 1.0"/>
</g>
</g>
<g id="text_49">
<text x="275.700" y="242.270" font-size="16.960" text-anchor="end" textLength="25.445" lengthAdjust="spacingAndGlyphs">0.5</text>
</g>
</g>
<g id="text_50">
<g transform="translate(223.410 309.18) rotate(-90)">
<text x="0.000" y="-0.800" font-size="14.204" textLength="82.669" lengthAdjust="spacingAndGlyphs">Output cov. </text>
<text x="82.209" y="-0.800" font-size="14.204" font-style="italic">C</text>
<text x="93.114" y="-7.890" font-size="9.943">(</text>
<text x="102.504" y="-7.890" font-size="9.943">)</text>
<text x="92.256" y="2.740" font-size="9.943" font-style="italic">α</text>
<text x="96.699" y="-7.890" font-size="9.943" font-style="italic">a</text>
<text x="98.323" y="2.740" font-size="9.943" font-style="italic">β</text>
</g>
</g>
</g>
<g id="line2d_49">
<path d="M 288 274.4 L 382.5 237" clip-path="url(#p9a310ef68f)" style="fill: none; stroke: #0000ff; stroke-opacity: 0.25; stroke-width: 2; stroke-linecap: square"/>
</g>
<g id="line2d_50">
<path d="M 292.9 290.22 L 293.59 286.56 L 294.41 283.43 L 295.30 280.89 L 296.27 278.80 L 297.39 276.90 L 298.67 275.18 L 300.08 273.63 L 301.85 272.04 L 304.00 270.43 L 306.59 268.78 L 309.94 266.94 L 314.12 264.91 L 319.84 262.39 L 328.19 258.98 L 352.70 249.13 L 358.28 246.59 L 362.33 244.51 L 365.30 242.76 L 367.79 241.04 L 369.84 239.33 L 371.51 237.64 L 372.84 235.98 L 374.02 234.14 L 375.04 232.11 L 375.91 229.92 L 376.69 227.34 L 377.42 224.18 L 377.8 222.06 L 377.8 222.06" clip-path="url(#p9a310ef68f)" style="fill: none; stroke: #0000ff; stroke-opacity: 0.55; stroke-width: 2; stroke-linecap: square"/>
</g>
<g id="line2d_51">
<path d="M 301.4 283.98 L 301.90 279.87 L 302.46 276.91 L 303.14 274.48 L 303.88 272.62 L 304.74 271.02 L 305.72 269.64 L 306.96 268.29 L 308.51 266.97 L 310.40 265.67 L 312.88 264.25 L 316.24 262.60 L 320.62 260.72 L 326.35 258.51 L 335.01 255.44 L 343.69 252.31 L 348.95 250.18 L 353.16 248.25 L 356.39 246.53 L 358.96 244.94 L 360.94 243.48 L 362.57 242.01 L 363.90 240.55 L 365.08 238.93 L 366.11 237.11 L 366.98 235.08 L 367.76 232.66 L 368.43 229.83 L 368.9 227.24 L 368.9 227.24" clip-path="url(#p9a310ef68f)" style="fill: none; stroke: #0000ff; stroke-width: 2.5; stroke-linecap: square"/>
</g>
<g id="patch_27">
<path d="M 283.5 293.1 L 283.5 218.6" style="fill: none; stroke: #666666; stroke-width: 1.3; stroke-linejoin: miter; stroke-linecap: square"/>
</g>
<g id="patch_28">
<path d="M 387.1 293.1 L 387.1 218.6" style="fill: none; stroke: #666666; stroke-width: 1.3; stroke-linejoin: miter; stroke-linecap: square"/>
</g>
<g id="patch_29">
<path d="M 283.5 293.1 L 387.1 293.1" style="fill: none; stroke: #666666; stroke-width: 1.3; stroke-linejoin: miter; stroke-linecap: square"/>
</g>
<g id="patch_30">
<path d="M 283.5 218.6 L 387.1 218.6" style="fill: none; stroke: #666666; stroke-width: 1.3; stroke-linejoin: miter; stroke-linecap: square"/>
</g>
<g id="text_51">
<text x="262.26" y="207.05" font-size="16.960" text-anchor="start" textLength="16.086" lengthAdjust="spacingAndGlyphs">e)</text>
</g>
<g id="legend_5">
<g id="patch_31">
<path d="M 287.65 254.53 L 330.93 254.53 Q 332.27 254.53 332.27 253.19 L 332.27 222.75 Q 332.27 221.41 330.93 221.41 L 287.65 221.41 Q 286.31 221.41 286.31 222.75 L 286.31 253.19 Q 286.31 254.53 287.65 254.53 z" style="fill: #ffffff; opacity: 0.8; stroke: #cccccc; stroke-width: 1.6; stroke-linejoin: miter"/>
</g>
<g id="line2d_52">
<path d="M 289.66 227.50 L 296.36 227.50 L 303.06 227.50" style="fill: none; stroke: #0000ff; stroke-opacity: 0.25; stroke-width: 2; stroke-linecap: square"/>
</g>
<g id="text_52">
<g transform="translate(308.42 229.85)">
<text x="-0.109" y="0.410" font-size="7.102" font-style="italic">L</text>
<text x="5.803" y="0.410" font-size="7.102">=</text>
<text x="12.196" y="0.410" font-size="7.102">0</text>
</g>
</g>
<g id="line2d_53">
<path d="M 289.66 237.47 L 296.36 237.47 L 303.06 237.47" style="fill: none; stroke: #0000ff; stroke-opacity: 0.55; stroke-width: 2; stroke-linecap: square"/>
</g>
<g id="text_53">
<g transform="translate(308.42 239.82)">
<text x="-0.109" y="0.310" font-size="7.102" font-style="italic">L</text>
<text x="5.803" y="0.310" font-size="7.102">=</text>
<text x="12.196" y="0.310" font-size="7.102">5</text>
</g>
</g>
<g id="line2d_54">
<path d="M 289.66 247.44 L 296.36 247.44 L 303.06 247.44" style="fill: none; stroke: #0000ff; stroke-width: 2.5; stroke-linecap: square"/>
</g>
<g id="text_54">
<g transform="translate(308.42 249.79)">
<text x="-0.109" y="0.410" font-size="7.102" font-style="italic">L</text>
<text x="5.803" y="0.410" font-size="7.102">=</text>
<text x="12.040" y="0.410" font-size="7.102" textLength="8.563" lengthAdjust="spacingAndGlyphs">10</text>
</g>
</g>
</g>
</g>
<g id="axes_6">
<g id="patch_32">
<path d="M 477.3 293.1 L 580.6 293.1 L 580.6 218.5 L 477.3 218.5 z" style="fill: #ffffff"/>
</g>
<g id="matplotlib.axis_11">
<g id="xtick_13">
<g id="line2d_55">
<g>
<use href="#m1504cfccaf" x="490.2" y="293.1" style="stroke: #444444; stroke-width: 1.0"/>
</g>
</g>
<g id="text_55">
<text x="490.2" y="313.450" font-size="16.960" text-anchor="middle" textLength="38.852" lengthAdjust="spacingAndGlyphs">−2.5</text>
</g>
</g>
<g id="xtick_14">
<g id="line2d_56">
<g>
<use href="#m1504cfccaf" x="531.35" y="293.1" style="stroke: #444444; stroke-width: 1.0"/>
</g>
</g>
<g id="text_56">
<text x="531.35" y="313.450" font-size="16.960" text-anchor="middle" textLength="25.445" lengthAdjust="spacingAndGlyphs">0.0</text>
</g>
</g>
<g id="xtick_15">
<g id="line2d_57">
<g>
<use href="#m1504cfccaf" x="572.5" y="293.1" style="stroke: #444444; stroke-width: 1.0"/>
</g>
</g>
<g id="text_57">
<text x="572.5" y="313.450" font-size="16.960" text-anchor="middle" textLength="25.445" lengthAdjust="spacingAndGlyphs">2.5</text>
</g>
</g>
<g id="text_58">
<g transform="translate(481.44 336.85)">
<text x="0.000" y="-0.800" font-size="14.204" textLength="70.839" lengthAdjust="spacingAndGlyphs">Input cov. </text>
<text x="70.379" y="-0.800" font-size="14.204" font-style="italic">C</text>
<text x="81.110" y="-7.890" font-size="9.943" textLength="13.269" lengthAdjust="spacingAndGlyphs">(0)</text>
<text x="80.170" y="2.740" font-size="9.943" font-style="italic" textLength="12.156" lengthAdjust="spacingAndGlyphs">αβ</text>
</g>
</g>
</g>
<g id="matplotlib.axis_12">
<g id="ytick_13">
<g id="line2d_58">
<g>
<use href="#m5d545ce8f8" x="477.3" y="276.3" style="stroke: #444444; stroke-width: 1.0"/>
</g>
</g>
<g id="text_59">
<text x="469.500" y="283.370" font-size="16.960" text-anchor="end" textLength="38.852" lengthAdjust="spacingAndGlyphs">−0.5</text>
</g>
</g>
<g id="ytick_14">
<g id="line2d_59">
<g>
<use href="#m5d545ce8f8" x="477.3" y="255.8" style="stroke: #444444; stroke-width: 1.0"/>
</g>
</g>
<g id="text_60">
<text x="469.500" y="262.870" font-size="16.960" text-anchor="end" textLength="25.445" lengthAdjust="spacingAndGlyphs">0.0</text>
</g>
</g>
<g id="ytick_15">
<g id="line2d_60">
<g>
<use href="#m5d545ce8f8" x="477.3" y="235.3" style="stroke: #444444; stroke-width: 1.0"/>
</g>
</g>
<g id="text_61">
<text x="469.500" y="242.370" font-size="16.960" text-anchor="end" textLength="25.445" lengthAdjust="spacingAndGlyphs">0.5</text>
</g>
</g>
<g id="text_62">
<g transform="translate(417.210 309.13) rotate(-90)">
<text x="0.000" y="-0.800" font-size="14.204" textLength="82.669" lengthAdjust="spacingAndGlyphs">Output cov. </text>
<text x="82.209" y="-0.800" font-size="14.204" font-style="italic">C</text>
<text x="93.114" y="-7.890" font-size="9.943">(</text>
<text x="102.504" y="-7.890" font-size="9.943">)</text>
<text x="92.256" y="2.740" font-size="9.943" font-style="italic">α</text>
<text x="96.699" y="-7.890" font-size="9.943" font-style="italic">a</text>
<text x="98.323" y="2.740" font-size="9.943" font-style="italic">β</text>
</g>
</g>
</g>
<g id="line2d_61">
<path d="M 488.32 288.6 L 489.17 285.36 L 490.09 282.67 L 491.20 280.11 L 492.42 277.90 L 493.67 276.06 L 495.08 274.36 L 496.84 272.60 L 498.78 270.99 L 501.14 269.34 L 503.96 267.67 L 507.28 265.97 L 511.44 264.10 L 516.83 261.93 L 524.56 259.08 L 548.95 250.28 L 554.32 248.03 L 558.46 246.06 L 561.76 244.26 L 564.56 242.48 L 566.90 240.71 L 568.82 238.97 L 570.38 237.29 L 571.78 235.47 L 573.04 233.51 L 574.26 231.15 L 575.26 228.73 L 576.21 225.88 L 577.10 222.45 L 577.14 222.3 L 577.14 222.3" clip-path="url(#p2ef74adb8d)" style="fill: none; stroke: #0000ff; stroke-opacity: 0.5; stroke-width: 2; stroke-linecap: square"/>
</g>
<g id="line2d_62">
<path d="M 480.9 234.34 L 515.43 232.81 L 533.06 231.83 L 543.38 231.06 L 550.35 230.33 L 554.82 229.66 L 558.16 228.95 L 560.56 228.22 L 562.42 227.45 L 564.01 226.54 L 565.17 225.62 L 566.22 224.51 L 567.13 223.20 L 567.6 222.32 L 567.6 222.32" clip-path="url(#p2ef74adb8d)" style="fill: none; stroke: #008000; stroke-opacity: 0.5; stroke-width: 2; stroke-linecap: square"/>
</g>
<g id="line2d_63">
<path d="M 483.92 286.6 L 484.60 282.98 L 485.36 280.10 L 486.16 277.83 L 487.13 275.74 L 488.27 273.87 L 489.58 272.21 L 491.04 270.74 L 492.65 269.41 L 494.64 268.06 L 497.06 266.67 L 500.22 265.12 L 504.23 263.41 L 509.84 261.29 L 517.90 258.49 L 547.70 248.39 L 553.40 246.13 L 557.51 244.28 L 560.76 242.59 L 563.49 240.93 L 565.76 239.28 L 567.61 237.66 L 569.09 236.07 L 570.41 234.34 L 571.57 232.47 L 572.57 230.47 L 573.48 228.16 L 574.36 225.31 L 574.92 223 L 574.92 223" clip-path="url(#p2ef74adb8d)" style="fill: none; stroke: #ff0000; stroke-opacity: 0.5; stroke-width: 2; stroke-linecap: square"/>
</g>
<g id="patch_33">
<path d="M 477.3 293.1 L 477.3 218.5" style="fill: none; stroke: #666666; stroke-width: 1.3; stroke-linejoin: miter; stroke-linecap: square"/>
</g>
<g id="patch_34">
<path d="M 580.6 293.1 L 580.6 218.5" style="fill: none; stroke: #666666; stroke-width: 1.3; stroke-linejoin: miter; stroke-linecap: square"/>
</g>
<g id="patch_35">
<path d="M 477.3 293.1 L 580.6 293.1" style="fill: none; stroke: #666666; stroke-width: 1.3; stroke-linejoin: miter; stroke-linecap: square"/>
</g>
<g id="patch_36">
<path d="M 477.3 218.5 L 580.6 218.5" style="fill: none; stroke: #666666; stroke-width: 1.3; stroke-linejoin: miter; stroke-linecap: square"/>
</g>
<g id="text_63">
<text x="456.12" y="206.93" font-size="16.960" text-anchor="start" textLength="11.875" lengthAdjust="spacingAndGlyphs">f)</text>
</g>
<g id="legend_6">
<g id="patch_37">
<path d="M 527.33 290.28 L 576.44 290.28 Q 577.78 290.28 577.78 288.94 L 577.78 258.46 Q 577.78 257.12 576.44 257.12 L 527.33 257.12 Q 525.99 257.12 525.99 258.46 L 525.99 288.94 Q 525.99 290.28 527.33 290.28 z" style="fill: #ffffff; opacity: 0.8; stroke: #cccccc; stroke-width: 1.6; stroke-linejoin: miter"/>
</g>
<g id="line2d_64">
<path d="M 529.34 263.22 L 536.04 263.22 L 542.74 263.22" style="fill: none; stroke: #0000ff; stroke-opacity: 0.5; stroke-width: 2; stroke-linecap: square"/>
</g>
<g id="text_64">
<g transform="translate(548.10 265.56)">
<text x="0.152" y="0.410" font-size="7.102" font-style="italic">g</text>
<text x="4.386" y="1.550" font-size="4.971" font-style="italic">b</text>
<text x="9.523" y="0.410" font-size="7.102">=</text>
<text x="15.760" y="0.410" font-size="7.102" textLength="10.703" lengthAdjust="spacingAndGlyphs">0.0</text>
</g>
</g>
<g id="line2d_65">
<path d="M 529.34 273.20 L 536.04 273.20 L 542.74 273.20" style="fill: none; stroke: #008000; stroke-opacity: 0.5; stroke-width: 2; stroke-linecap: square"/>
</g>
<g id="text_65">
<g transform="translate(548.10 275.54)">
<text x="0.152" y="0.410" font-size="7.102" font-style="italic">g</text>
<text x="4.386" y="1.550" font-size="4.971" font-style="italic">b</text>
<text x="9.523" y="0.410" font-size="7.102">=</text>
<text x="15.760" y="0.410" font-size="7.102" textLength="10.703" lengthAdjust="spacingAndGlyphs">0.5</text>
</g>
</g>
<g id="line2d_66">
<path d="M 529.34 283.18 L 536.04 283.18 L 542.74 283.18" style="fill: none; stroke: #ff0000; stroke-opacity: 0.5; stroke-width: 2; stroke-linecap: square"/>
</g>
<g id="text_66">
<g transform="translate(548.10 285.52)">
<text x="0.152" y="0.410" font-size="7.102" font-style="italic">g</text>
<text x="4.386" y="1.550" font-size="4.971" font-style="italic">b</text>
<text x="9.523" y="0.410" font-size="7.102">=</text>
<text x="15.760" y="0.410" font-size="7.102" textLength="10.703" lengthAdjust="spacingAndGlyphs">0.1</text>
</g>
</g>
</g>
</g>
</g>
<defs>
<clipPath id="p5fc4c7f21c">
<rect x="90.5" y="49" width="103" height="74.5"/>
</clipPath>
<clipPath id="p96dea099c9">
<rect x="283.5" y="49" width="103.5" height="74.5"/>
</clipPath>
<clipPath id="pc8fb054b8a">
<rect x="477.4" y="49" width="103.1" height="74.5"/>
</clipPath>
<clipPath id="p35a63f50ab">
<rect x="90.5" y="218.6" width="103" height="74.6"/>
</clipPath>
<clipPath id="p9a310ef68f">
<rect x="283.5" y="218.6" width="103.6" height="74.5"/>
</clipPath>
<clipPath id="p2ef74adb8d">
<rect x="477.3" y="218.5" width="103.3" height="74.6"/>
</clipPath>
</defs>
</svg>

</body></html>
